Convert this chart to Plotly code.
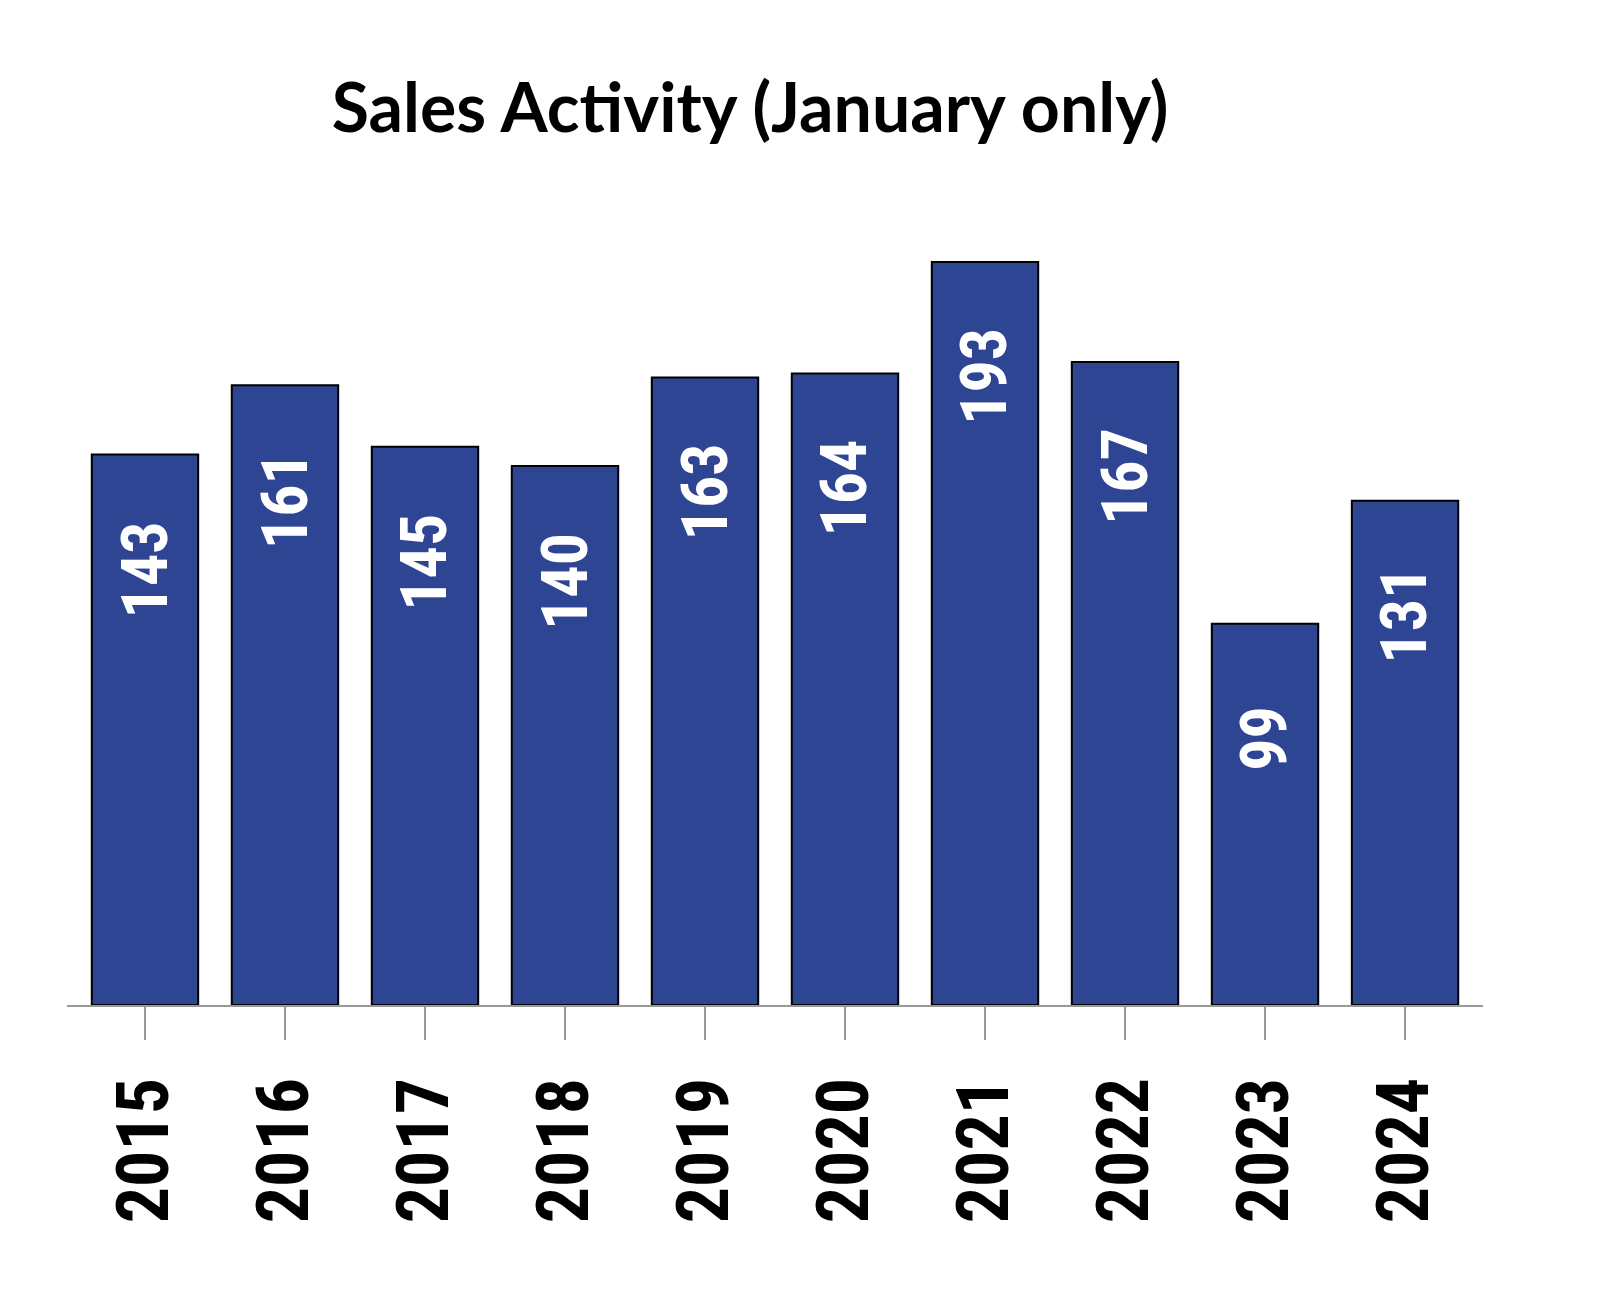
import plotly.graph_objects as go

years = [2015, 2016, 2017, 2018, 2019, 2020, 2021, 2022, 2023, 2024]
year_labels = ["2015", "2016", "2017", "2018", "2019", "2020", "2021", "2022", "2023", "2024"]
sales = [143, 161, 145, 140, 163, 164, 193, 167, 99, 131]
title_text = "Sales Activity (January only)"

BAR_COLOR = "#2E4593"
NARROW = "Roboto Condensed"

fig = go.Figure()
fig.add_trace(go.Bar(
    x=years, y=sales,
    marker=dict(color=BAR_COLOR, line=dict(color="#000000", width=2)),
    width=0.76,
    hoverinfo="x+y",
))

for yr, v in zip(years, sales):
    fig.add_annotation(
        x=yr, y=v, yshift=-115, text=str(v), textangle=-90,
        showarrow=False, xanchor="center", yanchor="middle",
        font=dict(family=NARROW, size=64, color="#ffffff", weight="bold"),
    )

fig.update_layout(
    width=1612, height=1304,
    margin=dict(l=67, r=129, t=235, b=299),
    paper_bgcolor="#ffffff", plot_bgcolor="#ffffff",
    showlegend=False,
    title=dict(
        text=title_text, x=750/1612, xref="container", xanchor="center",
        y=1-108/1304, yref="container", yanchor="middle",
        font=dict(family="Lato", size=68, color="#000000", weight="bold"),
    ),
    xaxis=dict(
        range=[years[0] - 0.557, years[-1] + 0.557],
        tickmode="array", tickvals=years, ticktext=year_labels,
        showline=True, linecolor="#999999", linewidth=2,
        ticks="outside", ticklen=33, tickwidth=2, tickcolor="#999999",
        tickangle=-90, ticklabelstandoff=9,
        tickfont=dict(family=NARROW, size=72, color="#000000", weight="bold"),
        showgrid=False, zeroline=False,
    ),
    yaxis=dict(
        range=[0, 200], visible=False, showgrid=False, zeroline=False,
    ),
)

fig.write_html("out.html")
